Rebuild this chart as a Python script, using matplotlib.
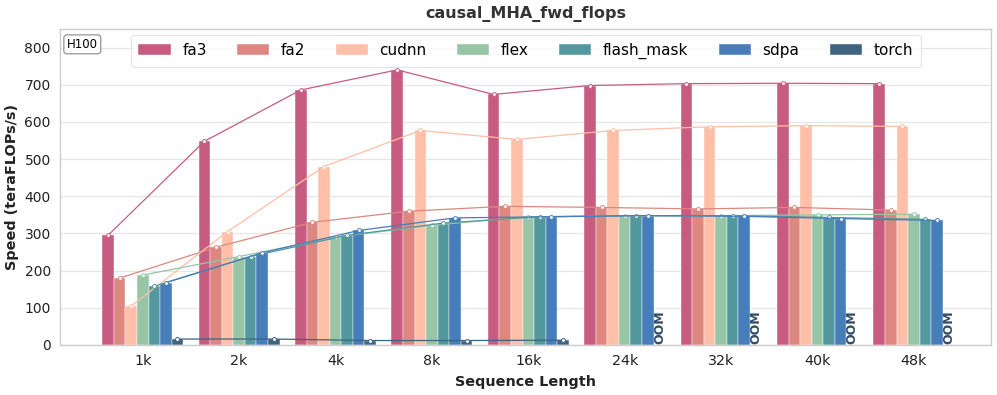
import matplotlib
matplotlib.use("Agg")
import matplotlib.pyplot as plt
import numpy as np

categories = ["1k", "2k", "4k", "8k", "16k", "24k", "32k", "40k", "48k"]
series_names = ["fa3", "fa2", "cudnn", "flex", "flash_mask", "sdpa", "torch"]
fa3 = [295, 548, 686, 740, 674, 698, 703, 704, 703]
fa2 = [180, 263, 330, 360, 373, 370, 366, 370, 363]
cudnn = [105, 305, 480, 577, 553, 577, 587, 590, 588]
flex = [188, 238, 290, 322, 345, 347, 348, 350, 352]
flash_mask = [158, 238, 295, 328, 345, 348, 348, 343, 338]
sdpa = [168, 248, 308, 342, 345, 348, 346, 340, 335]
torch = [16, 16, 12, 12, 13, None, None, None, None]
colors = ["#C75C80", "#DC8880", "#FFBFA8", "#97C6A7", "#52989E", "#477DB8", "#3E6480"]

all_series = [fa3, fa2, cudnn, flex, flash_mask, sdpa, torch]

fig = plt.figure(figsize=(9.97, 3.95), dpi=100)
ax = fig.add_axes([0.060, 0.1266, 0.934, 0.80])

n = len(all_series)
w = 0.12
x = np.arange(len(categories))
for i, (name, vals, c) in enumerate(zip(series_names, all_series, colors)):
    off = (i - (n - 1) / 2) * w
    xs, ys = [], []
    for j, v in enumerate(vals):
        if v is None:
            ax.text(x[j] + off, 2, "OOM", rotation=90, ha="center", va="bottom",
                    fontsize=9, fontweight="bold", color="#2F4B66", zorder=5)
        else:
            xs.append(x[j] + off)
            ys.append(v)
    ax.bar(xs, ys, width=w, color=c, label=name, zorder=2,
           edgecolor="white", linewidth=0.3)
    ax.plot(xs, ys, color=c, lw=0.9, marker="o", ms=2.8, mfc="white",
            mec=c, mew=0.7, zorder=4)

ax.set_xlim(-0.86, 8.8)
ax.set_ylim(0, 850)
ax.set_xticks(x)
ax.set_xticklabels(categories, fontsize=10.3, color="#222222")
ax.set_yticks(range(0, 801, 100))
ax.tick_params(axis="y", labelsize=10, colors="#222222", length=0, pad=6.5)
ax.tick_params(axis="x", length=0, pad=6.5)
ax.yaxis.grid(True, color="#e6e6e6", lw=0.9, zorder=0)
ax.set_axisbelow(True)
for s in ax.spines.values():
    s.set_color("#cccccc")
    s.set_linewidth(1.0)

ax.set_xlabel("Sequence Length", fontsize=10.4, fontweight="bold", color="#222222", labelpad=5)
ax.set_ylabel("Speed (teraFLOPs/s)", fontsize=10.4, fontweight="bold", color="#222222")
ax.set_title("causal_MHA_fwd_flops", fontsize=11.5, fontweight="bold", color="#333333", pad=8)

leg = ax.legend(loc="upper center", ncol=7, fontsize=11, frameon=True,
                bbox_to_anchor=(0.5005, 1.0), borderaxespad=0.4, borderpad=0.5,
                handlelength=2.1, handleheight=0.75, columnspacing=2.0,
                handletextpad=0.76, fancybox=True)
leg.get_frame().set_edgecolor("#dddddd")
leg.get_frame().set_linewidth(0.8)

ax.text(0.0075, 0.972, "H100", transform=ax.transAxes, fontsize=8.5, ha="left", va="top",
        bbox=dict(boxstyle="round,pad=0.25", fc="white", ec="#888888", lw=0.8))

fig.savefig("out.png", dpi=100)
